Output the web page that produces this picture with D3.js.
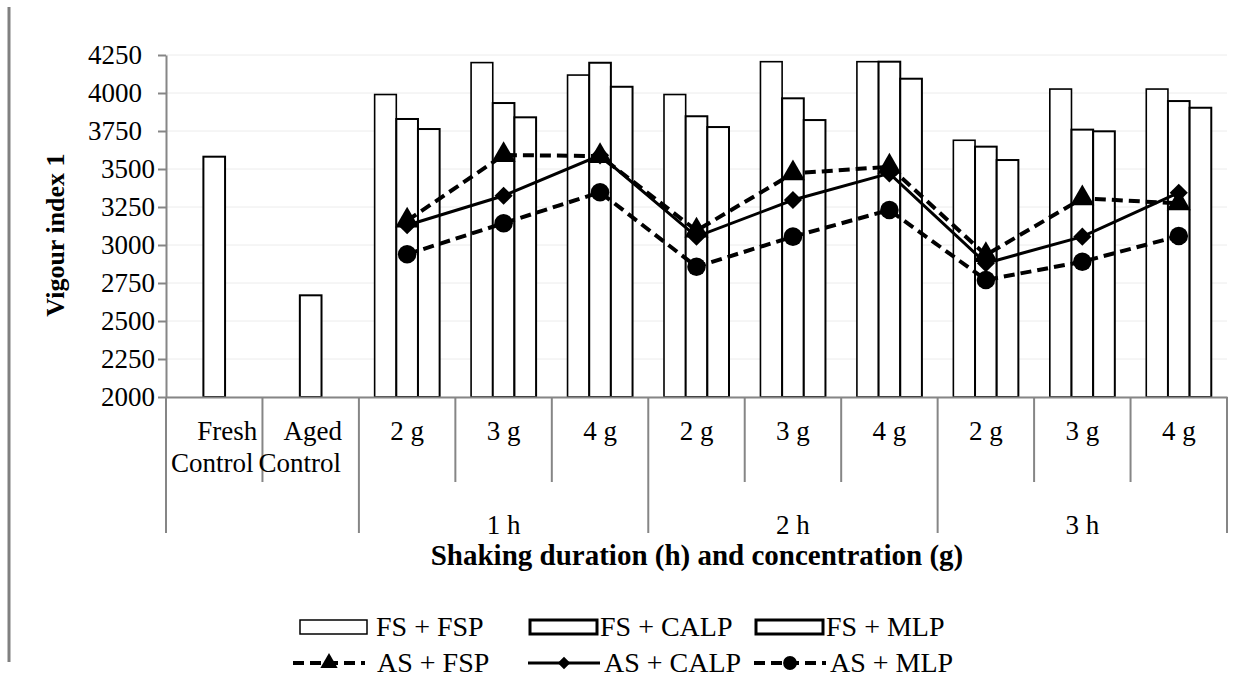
<!DOCTYPE html>
<html>
<head>
<meta charset="utf-8">
<script src="https://cdn.jsdelivr.net/npm/d3@7"></script>
<style>
  body { margin: 0; background: #fff; }
  svg text { font-family: "Liberation Serif", "Times New Roman", "DejaVu Serif", serif !important; fill: #000; }
</style>
</head>
<body>
<script>
// Data (Vigour index 1)
const categories = ["FC", "AC", "1h2g", "1h3g", "1h4g", "2h2g", "2h3g", "2h4g", "3h2g", "3h3g", "3h4g"];
const subLabels = ["Fresh Control", "Aged Control", "2 g", "3 g", "4 g", "2 g", "3 g", "4 g", "2 g", "3 g", "4 g"];
const groupLabels = ["1 h", "2 h", "3 h"];
const groupOf = [null, null, "1 h", "1 h", "1 h", "2 h", "2 h", "2 h", "3 h", "3 h", "3 h"];
const yTicks = [2000, 2250, 2500, 2750, 3000, 3250, 3500, 3750, 4000, 4250];

// bars
const fsFsp  = [null, null, 3990, 4200, 4118, 3990, 4206, 4206, 3689, 4026, 4026];
const fsCalp = [3581, 2669, 3829, 3934, 4199, 3847, 3965, 4206, 3647, 3759, 3947];
const fsMlp  = [null, null, 3763, 3840, 4041, 3776, 3822, 4094, 3559, 3748, 3903];

// lines
const asFsp  = [null, null, 3160, 3592, 3585, 3095, 3471, 3515, 2934, 3307, 3274];
const asCalp = [null, null, 3130, 3324, 3590, 3055, 3296, 3471, 2880, 3055, 3344];
const asMlp  = [null, null, 2939, 3143, 3347, 2857, 3055, 3230, 2770, 2890, 3059];

const barSeries = [
  {name: "FS + FSP", values: fsFsp, sw: 1.6, lw: 1.5},
  {name: "FS + CALP", values: fsCalp, sw: 2, lw: 3},
  {name: "FS + MLP", values: fsMlp, sw: 2, lw: 3}
];
const lineSeries = [
  {name: "AS + FSP", values: asFsp, dash: "11,6", sw: 4, sym: d3.symbolTriangle, size: 250, lsize: 130},
  {name: "AS + CALP", values: asCalp, dash: null, sw: 3, sym: d3.symbolDiamond2, size: 210, lsize: 100},
  {name: "AS + MLP", values: asMlp, dash: "11,6", sw: 4, sym: d3.symbolCircle, size: 270, lsize: 150}
];

const width = 1254, height = 690;
const plot = {left: 166, right: 1227, top: 55, bottom: 397};
const serif = "Liberation Serif, Times New Roman, serif";

const svg = d3.select("body").append("svg")
  .attr("width", width)
  .attr("height", height)
  .attr("font-family", serif);

// grey frame line on the left edge
svg.append("line")
  .attr("x1", 9).attr("x2", 9).attr("y1", 7).attr("y2", 662)
  .attr("stroke", "#808080").attr("stroke-width", 3);

const x = d3.scaleBand().domain(categories).range([plot.left, plot.right]);
const y = d3.scaleLinear().domain([2000, 4250]).range([plot.bottom, plot.top]);
const bw = x.bandwidth();

// 3 bar slots per category
const x1 = d3.scaleBand().domain(barSeries.map(s => s.name)).range([(bw - 65) / 2, (bw + 65) / 2]);

// gridlines
svg.append("g").selectAll("line")
  .data(yTicks)
  .join("line")
  .attr("x1", plot.left).attr("x2", plot.right)
  .attr("y1", d => y(d)).attr("y2", d => y(d))
  .attr("stroke", "#ececec").attr("stroke-width", 1);

// bars
barSeries.forEach(s => {
  svg.append("g").selectAll("rect")
    .data(s.values.map((v, i) => ({v, c: categories[i]})).filter(d => d.v != null))
    .join("rect")
    .attr("x", d => x(d.c) + x1(s.name))
    .attr("width", x1.bandwidth())
    .attr("y", d => y(d.v))
    .attr("height", d => y(2000) - y(d.v))
    .attr("fill", "#fff")
    .attr("stroke", "#000")
    .attr("stroke-width", s.sw);
});

// y axis
const yAxis = d3.axisLeft(y).tickValues(yTicks).tickFormat(d3.format("d"))
  .tickSize(8).tickSizeOuter(0).tickPadding(3);
const yg = svg.append("g").attr("transform", `translate(${plot.left},0)`).call(yAxis)
  .attr("font-family", serif);
yg.select(".domain").attr("stroke", "#868686").attr("stroke-width", 2);
yg.selectAll(".tick line").attr("stroke", "#868686").attr("stroke-width", 2);
yg.selectAll(".tick text")
  .attr("font-size", 27)
  .attr("dx", d => d >= 3750 ? -13 : 0);

// x axis line
const xg = svg.append("g").attr("transform", `translate(0,${plot.bottom})`)
  .call(d3.axisBottom(x).tickSize(0).tickSizeOuter(0).tickFormat(""));
xg.select(".domain").attr("stroke", "#868686").attr("stroke-width", 2);

// category dividers: long ones between groups, short ones inside
const edges = categories.map((c, i) => ({
  x: x(c),
  long: i === 0 || (i > 1 && groupOf[i] !== groupOf[i - 1])
}));
edges.push({x: plot.right, long: true});
svg.append("g").selectAll("line")
  .data(edges)
  .join("line")
  .attr("x1", d => d.x).attr("x2", d => d.x)
  .attr("y1", plot.bottom).attr("y2", d => d.long ? 533 : 482)
  .attr("stroke", "#868686").attr("stroke-width", 2);

// category labels (the control labels wrap onto two lines)
const labelG = svg.append("g").attr("font-size", 27);
subLabels.forEach((lab, i) => {
  const cx = x(categories[i]) + bw / 2;
  if (lab.indexOf("Control") >= 0) {
    const words = lab.split(" ");
    const shift = i === 0 ? [13, -2] : [2, -11];
    labelG.append("text").attr("x", cx + shift[0]).attr("y", 440).attr("text-anchor", "middle").text(words[0]);
    labelG.append("text").attr("x", cx + shift[1]).attr("y", 472).attr("text-anchor", "middle").text(words[1]);
  } else {
    labelG.append("text").attr("x", cx).attr("y", 440).attr("text-anchor", "middle").text(lab);
  }
});

// group labels
groupLabels.forEach(g => {
  const idx = groupOf.map((d, i) => d === g ? i : -1).filter(i => i >= 0);
  const x0 = x(categories[idx[0]]);
  const xEnd = x(categories[idx[idx.length - 1]]) + bw;
  labelG.append("text").attr("x", (x0 + xEnd) / 2).attr("y", 534).attr("text-anchor", "middle").text(g);
});

// lines + markers
lineSeries.forEach(s => {
  const pts = s.values.map((v, i) => ({v, c: categories[i]})).filter(d => d.v != null);
  const line = d3.line().x(d => x(d.c) + bw / 2).y(d => y(d.v));
  svg.append("path")
    .datum(pts)
    .attr("fill", "none")
    .attr("stroke", "#000")
    .attr("stroke-width", s.sw)
    .attr("stroke-dasharray", s.dash)
    .attr("d", line);
  svg.append("g").selectAll("path")
    .data(pts)
    .join("path")
    .attr("transform", d => `translate(${x(d.c) + bw / 2},${y(d.v)})`)
    .attr("d", d3.symbol().type(s.sym).size(s.size))
    .attr("fill", "#000");
});

// axis titles
svg.append("text")
  .attr("transform", "translate(64,235) rotate(-90)")
  .attr("text-anchor", "middle")
  .attr("font-size", 26).attr("font-weight", "bold")
  .text("Vigour index 1");

svg.append("text")
  .attr("x", 697).attr("y", 565)
  .attr("text-anchor", "middle")
  .attr("font-size", 29).attr("font-weight", "bold")
  .text("Shaking duration (h) and concentration (g)");

// legend
const legX = [300, 530, 756];
const leg = svg.append("g").attr("font-size", 28);
barSeries.forEach((s, i) => {
  leg.append("rect")
    .attr("x", legX[i]).attr("y", 620).attr("width", 67).attr("height", 14)
    .attr("fill", "#fff").attr("stroke", "#000").attr("stroke-width", s.lw);
  leg.append("text").attr("x", legX[i] + 70 + (i === 0 ? 6 : 0)).attr("y", 636).text(s.name);
});
lineSeries.forEach((s, i) => {
  const x0 = legX[i] - (i === 0 ? 7 : 2);
  leg.append("line")
    .attr("x1", x0).attr("x2", x0 + 72).attr("y1", 663).attr("y2", 663)
    .attr("stroke", "#000").attr("stroke-width", s.sw)
    .attr("stroke-dasharray", s.dash);
  leg.append("path")
    .attr("transform", `translate(${x0 + 36},663)`)
    .attr("d", d3.symbol().type(s.sym).size(s.lsize))
    .attr("fill", "#000");
  leg.append("text").attr("x", x0 + 76 + (i === 0 ? 8 : 0)).attr("y", 672).text(s.name);
});
</script>
</body>
</html>
